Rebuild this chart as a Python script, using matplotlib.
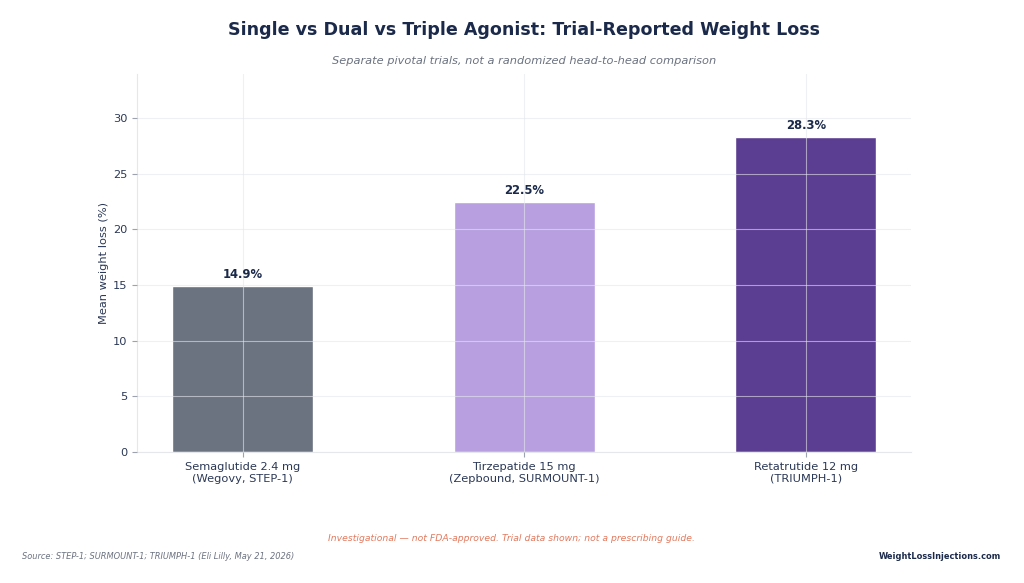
import matplotlib.pyplot as plt

DRUGS = [
    "Semaglutide 2.4 mg\n(Wegovy, STEP-1)",
    "Tirzepatide 15 mg\n(Zepbound, SURMOUNT-1)",
    "Retatrutide 12 mg\n(TRIUMPH-1)",
]
WEIGHT_LOSS = [14.9, 22.5, 28.3]
COLORS = ["#6b7280", "#b8a0e0", "#5b3d91"]

NAVY = "#1b2a4a"
TICK = "#2b3856"
AX_RECT = [0.134, 0.225, 0.756, 0.648]


def main():
    fig = plt.figure(figsize=(10.24, 5.83), dpi=100)
    ax = fig.add_axes(AX_RECT)

    x = range(len(DRUGS))
    bars = ax.bar(x, WEIGHT_LOSS, width=0.5, color=COLORS,
                  edgecolor="white", linewidth=1.0, zorder=2)
    for bar, val in zip(bars, WEIGHT_LOSS):
        ax.annotate(f"{val:.1f}%", (bar.get_x() + bar.get_width() / 2, val),
                    xytext=(0, 3.5), textcoords="offset points",
                    ha="center", va="bottom", fontsize=8.4,
                    fontweight="bold", color=NAVY)

    ax.set_ylim(0, max(WEIGHT_LOSS) * 1.2)
    ax.set_xticks(list(x))
    ax.set_xticklabels(DRUGS, fontsize=8.2, color=TICK, linespacing=1.3)
    ax.tick_params(axis="y", labelsize=8.2, labelcolor=TICK, color="#9ca3af")
    ax.tick_params(axis="x", color="#9ca3af")
    ax.set_ylabel("Mean weight loss (%)", fontsize=8.2, color=TICK, labelpad=3)

    # light grid drawn over the bars
    ax.grid(True, color="#e5e7eb", linewidth=0.8, alpha=0.6, zorder=3)
    ax.set_axisbelow(False)
    for side in ["top", "right"]:
        ax.spines[side].set_visible(False)
    for side in ["left", "bottom"]:
        ax.spines[side].set_color("#e5e7eb")

    # title and subtitle are centred on the axes, footer on the figure
    ax_mid = AX_RECT[0] + AX_RECT[2] / 2
    fig.text(ax_mid, 0.948, "Single vs Dual vs Triple Agonist: Trial-Reported Weight Loss",
             ha="center", va="center", fontsize=12.6, fontweight="bold", color=NAVY)
    fig.text(ax_mid, 0.895, "Separate pivotal trials, not a randomized head-to-head comparison",
             ha="center", va="center", fontsize=8.2, style="italic", color="#6b7280")
    fig.text(0.5, 0.077,
             "Investigational \u2014 not FDA-approved. Trial data shown; not a prescribing guide.",
             ha="center", va="center", fontsize=6.7, style="italic", color="#e07a5f")
    fig.text(0.021, 0.045, "Source: STEP-1; SURMOUNT-1; TRIUMPH-1 (Eli Lilly, May 21, 2026)",
             ha="left", va="center", fontsize=5.95, style="italic", color="#6b7280")
    fig.text(0.978, 0.045, "WeightLossInjections.com",
             ha="right", va="center", fontsize=5.95, fontweight="bold", color=NAVY)

    fig.savefig("out.png", dpi=100)


if __name__ == "__main__":
    main()
